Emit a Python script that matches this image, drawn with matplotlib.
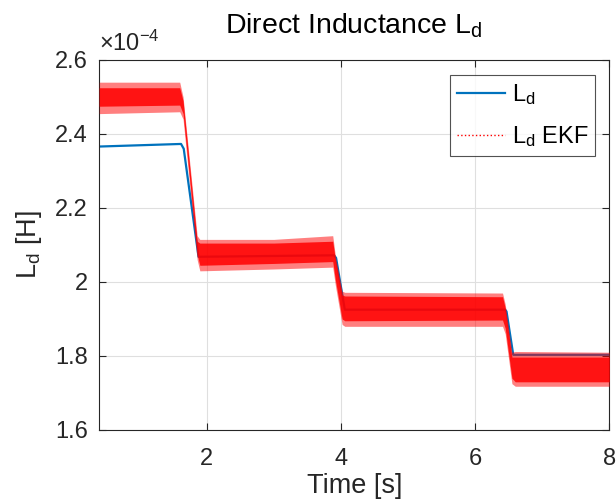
import matplotlib
matplotlib.use("Agg")
import matplotlib.pyplot as plt

plt.rcParams['font.family'] = ['Liberation Sans', 'DejaVu Sans']
plt.rcParams['mathtext.fontset'] = 'custom'
plt.rcParams['mathtext.rm'] = 'Liberation Sans'
plt.rcParams['mathtext.it'] = 'Liberation Sans'

# True direct inductance (x1e-4 H)
t_ld = [0.4, 1.62, 1.66, 1.88, 3.90, 3.93, 4.06, 6.45, 6.47, 6.57, 8.0]
ld = [2.366, 2.373, 2.36, 2.068, 2.072, 2.065, 1.925, 1.925, 1.92, 1.803, 1.803]

# EKF estimate envelope (x1e-4 H)
t_ekf = [0.4, 1.60, 1.65, 1.86, 1.90, 3.0, 3.88, 3.92, 4.02, 4.06, 6.41, 6.45, 6.55, 6.60, 8.0]
ekf_hi = [2.540, 2.540, 2.500, 2.125, 2.115, 2.115, 2.125, 2.070, 1.975, 1.972, 1.970, 1.940, 1.810, 1.812, 1.810]
ekf_lo = [2.455, 2.460, 2.440, 2.060, 2.030, 2.035, 2.040, 1.990, 1.885, 1.880, 1.880, 1.860, 1.725, 1.718, 1.718]
ekf_core_hi = [2.525, 2.525, 2.490, 2.110, 2.105, 2.105, 2.110, 2.060, 1.965, 1.962, 1.960, 1.930, 1.797, 1.797, 1.797]
ekf_core_lo = [2.475, 2.478, 2.455, 2.075, 2.045, 2.050, 2.055, 2.005, 1.900, 1.895, 1.897, 1.875, 1.740, 1.730, 1.730]

xticks = [2, 4, 6, 8]
yticks = [1.6, 1.8, 2.0, 2.2, 2.4, 2.6]
ytick_labels = ['1.6', '1.8', '2', '2.2', '2.4', '2.6']

fig = plt.figure(figsize=(6.16, 5.04), dpi=100)
ax = fig.add_axes([0.161, 0.147, 0.828, 0.734])

blue = '#0072BD'
ax.fill_between(t_ekf, ekf_lo, ekf_hi, color='#ff0000', alpha=0.5, linewidth=0, zorder=3)
ax.fill_between(t_ekf, ekf_core_lo, ekf_core_hi, color='#ff0000', alpha=0.85, linewidth=0, zorder=3)
ax.plot(t_ld, ld, color=blue, linewidth=1.6, zorder=2, label=r'L$_{\rm d}$')
ax.plot([], [], color='red', linestyle=':', linewidth=1.0, label=r'L$_{\rm d}$ EKF')

ax.set_xlim(0.4, 8)
ax.set_ylim(1.6, 2.6)
ax.set_xticks(xticks)
ax.set_yticks(yticks)
ax.set_yticklabels(ytick_labels)
ax.grid(True, color='#dfdfdf', linewidth=0.8)
ax.set_axisbelow(True)
ax.tick_params(direction='in', length=5, width=0.8, labelsize=17, colors='#262626',
               top=True, right=True)
ax.tick_params(axis='x', pad=13)
ax.tick_params(axis='y', pad=8)
for s in ax.spines.values():
    s.set_color('#262626')
    s.set_linewidth(0.8)

ax.set_xlabel('Time [s]', fontsize=19.5, color='#262626', labelpad=2)
ax.set_ylabel(r'L$_{\rm d}$ [H]', fontsize=19.5, color='#262626', labelpad=8)
ax.set_title(r'Direct Inductance L$_{\rm d}$', fontsize=20.5, color='black', pad=19)
ax.text(0.0, 1.012, r'$\times$10$^{-4}$', transform=ax.transAxes, fontsize=17,
        color='#262626', ha='left', va='bottom')

leg = ax.legend(loc='upper right', fontsize=17, frameon=True, fancybox=False,
                edgecolor='#262626', handlelength=2.0, handletextpad=0.3,
                borderpad=0.3, borderaxespad=0.0,
                bbox_to_anchor=(0.973, 0.96), labelspacing=0.75)
leg.get_frame().set_linewidth(0.8)

fig.savefig('out.png', dpi=100)
